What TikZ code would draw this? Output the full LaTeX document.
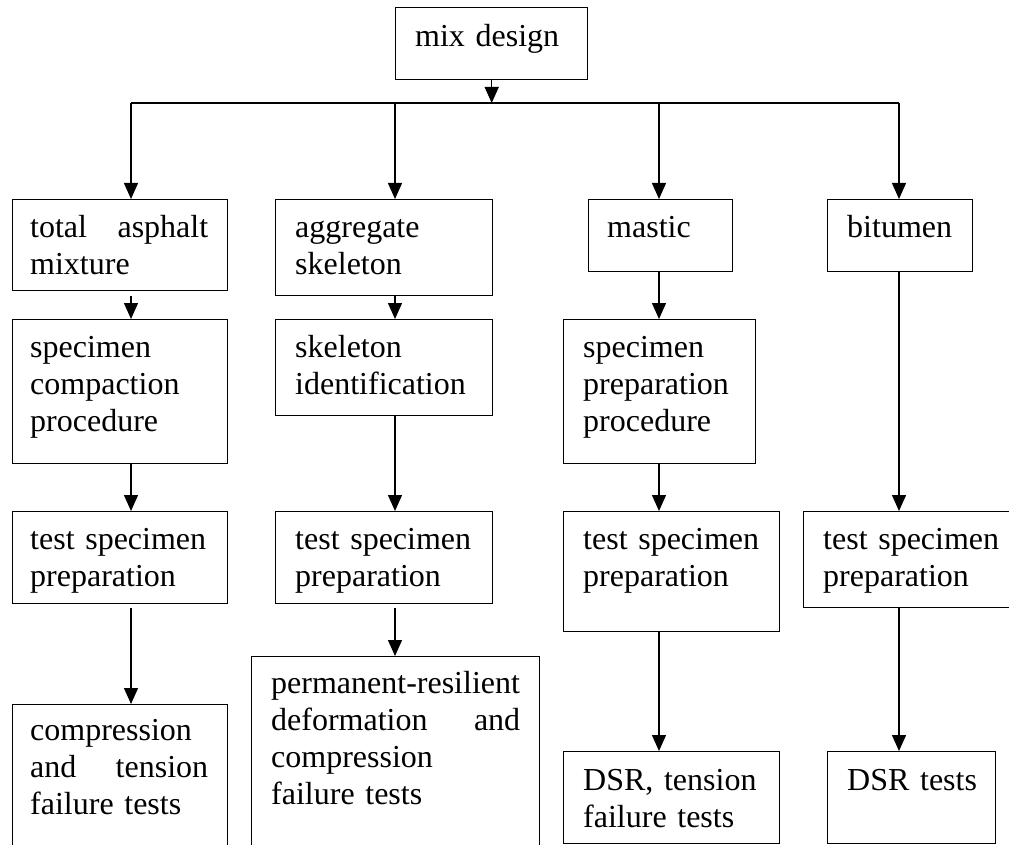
\documentclass[tikz,border=0pt]{standalone}
\usepackage{fontspec}
\setmainfont{Liberation Serif}
\usetikzlibrary{arrows.meta}
\newcommand\jf{\hskip 0pt plus 1fill\relax}
\tikzset{
  box/.style={draw, line width=1.4pt, inner sep=0pt, rectangle, anchor=north west},
  txt/.style={inner sep=0pt, anchor=base west, align=left, font=\fontsize{32}{37}\selectfont},
  arr/.style={line width=1.4pt, -{Triangle[length=16pt,width=14pt]}},
  ln/.style={line width=1.4pt}
}
\newcommand\bx[5]{\node[box, minimum width=#4pt, minimum height=#5pt] (#1) at (#2,#3) {};}
\begin{document}
\begin{tikzpicture}[x=1pt,y=-1pt]
\useasboundingbox (0,0) rectangle (1009,845);
% boxes
\bx{mix}{395}{7}{192}{72}
\bx{tam}{12}{199}{215}{91}
\bx{agg}{275}{199}{217}{96}
\bx{mas}{588}{199}{144}{72}
\bx{bit}{827}{199}{145}{72}
\bx{scp}{12}{319}{215}{144}
\bx{ski}{275}{319}{217}{96}
\bx{spp}{563}{319}{192}{144}
\bx{tsa}{12}{511}{215}{92}
\bx{tsb}{275}{511}{217}{92}
\bx{tsc}{563}{511}{216}{120}
\bx{tsd}{803}{511}{215}{96}
\bx{cmp}{12}{704}{215}{150}
\bx{prd}{251}{656}{288}{200}
\bx{dsa}{563}{751}{216}{92}
\bx{dsb}{827}{751}{168}{92}
% texts
\node[txt, text width=150pt] (mix-t) at (415,47) {mix design};
\node[txt, text width=178pt] (tam-t) at (30,237) {total\jf asphalt\\mixture};
\node[txt, text width=178pt] (agg-t) at (295,237) {aggregate\\skeleton};
\node[txt, text width=110pt] (mas-t) at (607,237) {mastic};
\node[txt, text width=120pt] (bit-t) at (847,237) {bitumen};
\node[txt, text width=178pt] (scp-t) at (30,357) {specimen\\compaction\\procedure};
\node[txt, text width=180pt] (ski-t) at (295,357) {skeleton\\identification};
\node[txt, text width=178pt] (spp-t) at (583,357) {specimen\\preparation\\procedure};
\node[txt, text width=180pt] (tsa-t) at (30,549) {test specimen\\preparation};
\node[txt, text width=180pt] (tsb-t) at (295,549) {test specimen\\preparation};
\node[txt, text width=180pt] (tsc-t) at (583,549) {test specimen\\preparation};
\node[txt, text width=180pt] (tsd-t) at (823,549) {test specimen\\preparation};
\node[txt, text width=178pt] (cmp-t) at (30,740) {compression\\and\jf tension\\failure tests};
\node[txt, text width=249pt] (prd-t) at (271,693) {permanent-resilient\\deformation\jf and\\compression\\failure tests};
\node[txt, text width=180pt] (dsa-t) at (583,790) {DSR, tension\\failure tests};
\node[txt, text width=140pt] (dsb-t) at (847,790) {DSR tests};
% column lines
\coordinate (ca) at (131,103);
\coordinate (cb) at (395,103);
\coordinate (cc) at (659,103);
\coordinate (cd) at (899,103);
\coordinate (bus) at (mix.south |- ca);
% connectors
\draw[arr] (mix.south) -- (bus);
\draw[ln] (ca) -- (cd);
\draw[arr] (ca) -- (tam.north -| ca);
\draw[arr] (cb) -- (agg.north -| cb);
\draw[arr] (cc) -- (mas.north -| cc);
\draw[arr] (cd) -- (bit.north -| cd);
\draw[arr, shorten <=5pt] (tam.south -| ca) -- (scp.north -| ca);
\draw[arr] (agg.south -| cb) -- (ski.north -| cb);
\draw[arr] (mas.south -| cc) -- (spp.north -| cc);
\draw[arr] (bit.south -| cd) -- (tsd.north -| cd);
\draw[arr] (scp.south -| ca) -- (tsa.north -| ca);
\draw[arr] (ski.south -| cb) -- (tsb.north -| cb);
\draw[arr] (spp.south -| cc) -- (tsc.north -| cc);
\draw[arr, shorten <=4pt] (tsa.south -| ca) -- (cmp.north -| ca);
\draw[arr, shorten <=4pt] (tsb.south -| cb) -- (prd.north -| cb);
\draw[arr] (tsc.south -| cc) -- (dsa.north -| cc);
\draw[arr] (tsd.south -| cd) -- (dsb.north -| cd);
\end{tikzpicture}
\end{document}
